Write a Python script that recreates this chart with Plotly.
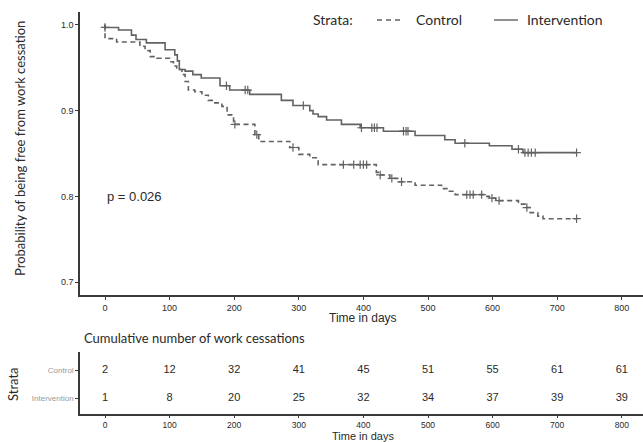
import numpy as np
import plotly.graph_objects as go

# ---------------- data ----------------
int_time = [0, 0, 21, 41, 48, 64, 93, 108, 112, 115, 124, 136, 149, 178, 193, 224, 273, 291,
            317, 322, 330, 343, 366, 395, 431, 480, 526, 542, 595, 630, 647, 730]
int_surv = [1.0, 0.997, 0.994, 0.988, 0.983, 0.979, 0.971, 0.965, 0.958, 0.948, 0.946, 0.942,
            0.938, 0.929, 0.924, 0.919, 0.912, 0.906, 0.900, 0.896, 0.893, 0.889, 0.884, 0.880,
            0.876, 0.871, 0.866, 0.862, 0.859, 0.855, 0.851, 0.851]

ctl_time = [0, 0, 18, 54, 62, 70, 80, 100, 106, 111, 119, 124, 129, 139, 150, 160, 170, 181,
            189, 199, 232, 238, 286, 300, 317, 330, 420, 426, 441, 455, 480, 521, 531, 542,
            586, 595, 605, 640, 653, 658, 670, 678, 730]
ctl_surv = [1.0, 0.984, 0.980, 0.975, 0.970, 0.963, 0.961, 0.957, 0.952, 0.948, 0.942, 0.934,
            0.924, 0.922, 0.918, 0.912, 0.909, 0.905, 0.895, 0.884, 0.872, 0.864, 0.857, 0.849,
            0.845, 0.837, 0.828, 0.825, 0.821, 0.817, 0.813, 0.809, 0.806, 0.802, 0.800, 0.798,
            0.795, 0.791, 0.787, 0.781, 0.777, 0.774, 0.774]

int_cens = [0, 188, 217, 221, 307, 397, 413, 417, 421, 462, 466, 469, 557, 640, 650, 655, 660, 666, 730]
ctl_cens = [201, 235, 291, 369, 385, 395, 400, 405, 426, 444, 459, 560, 565, 570, 583, 599, 610, 653, 730]

risk_times = [0, 100, 200, 300, 400, 500, 600, 700, 800]
ctl_cum = [2, 12, 32, 41, 45, 51, 55, 61, 61]
int_cum = [1, 8, 20, 25, 32, 34, 37, 39, 39]

groups = ["Control", "Intervention"]
p_text = "p = 0.026"

# ---------------- helpers ----------------
def step_at(times, surv, t):
    times = np.asarray(times, float)
    surv = np.asarray(surv, float)
    idx = np.searchsorted(times, np.asarray(t, float), side="right") - 1
    return surv[idx]

LINE_COL = "#626262"
AX_COL = "#3a3a3a"
TXT_COL = "#2a2a2a"
DASH = "5px,3.5px"
XR = [-38.7, 832.8]
W, H = 643, 442

fig = go.Figure()

fig.add_trace(go.Scatter(x=ctl_time, y=ctl_surv, mode="lines",
                         line=dict(shape="hv", dash=DASH, color=LINE_COL, width=1.6),
                         showlegend=False, hoverinfo="skip"))
fig.add_trace(go.Scatter(x=int_time, y=int_surv, mode="lines",
                         line=dict(shape="hv", color=LINE_COL, width=1.6),
                         showlegend=False, hoverinfo="skip"))
fig.add_trace(go.Scatter(x=ctl_cens, y=step_at(ctl_time, ctl_surv, ctl_cens), mode="markers",
                         marker=dict(symbol="cross-thin", size=6, line=dict(width=1.2, color=LINE_COL)),
                         showlegend=False, hoverinfo="skip"))
fig.add_trace(go.Scatter(x=int_cens, y=step_at(int_time, int_surv, int_cens), mode="markers",
                         marker=dict(symbol="cross-thin", size=6, line=dict(width=1.2, color=LINE_COL)),
                         showlegend=False, hoverinfo="skip"))

# risk table
fig.add_trace(go.Scatter(x=risk_times + risk_times, y=[2] * len(risk_times) + [1] * len(risk_times),
                         text=[str(v) for v in ctl_cum + int_cum], mode="text",
                         textfont=dict(family="Liberation Sans", size=11, color=TXT_COL),
                         xaxis="x2", yaxis="y2", showlegend=False, hoverinfo="skip"))

x0 = 80 / W
axis_common = dict(showline=True, linecolor=AX_COL, linewidth=1.5, ticks="outside",
                   tickcolor=AX_COL, showgrid=False, zeroline=False)
tickf = dict(family="Liberation Sans", size=9, color=TXT_COL)

def px(xp):
    return xp / W

def py(yp):
    return (H - yp) / H

ly = py(20)
shapes = [
    dict(type="line", xref="paper", yref="paper", x0=px(377), x1=px(403), y0=ly, y1=ly,
         line=dict(color=LINE_COL, width=1.4, dash="5px,4px")),
    dict(type="line", xref="paper", yref="paper", x0=px(494), x1=px(518), y0=ly, y1=ly,
         line=dict(color=LINE_COL, width=1.4)),
]

fig.update_layout(
    width=W, height=H, margin=dict(l=0, r=0, t=0, b=0),
    paper_bgcolor="white", plot_bgcolor="white", showlegend=False,
    xaxis=dict(domain=[x0, 1], range=XR, tickvals=risk_times, anchor="y", tickfont=tickf,
               ticklen=3, **axis_common),
    yaxis=dict(domain=[py(295), py(12)], range=[0.685, 1.015], anchor="x",
               tickvals=[0.7, 0.8, 0.9, 1.0], ticktext=["0.7", "0.8", "0.9", "1.0"],
               tickfont=tickf, ticklen=3, **axis_common),
    xaxis2=dict(domain=[x0, 1], range=XR, tickvals=risk_times, anchor="y2",
                tickfont=dict(family="Liberation Sans", size=8.5, color=TXT_COL), ticklen=2, **axis_common),
    yaxis2=dict(domain=[py(414), py(352)], range=[0.43, 2.643], anchor="x2",
                tickvals=[2, 1], ticktext=groups, ticklen=3,
                tickfont=dict(family="Liberation Sans", size=8, color="#9a9a9a"), **axis_common),
    shapes=shapes,
    annotations=[
        dict(text="Strata:", x=px(311), y=ly, xref="paper", yref="paper", xanchor="left", yanchor="middle",
             showarrow=False, font=dict(family="Lato", size=14, color=TXT_COL)),
        dict(text=groups[0], x=px(414), y=ly, xref="paper", yref="paper", xanchor="left", yanchor="middle",
             showarrow=False, font=dict(family="Lato", size=14, color=TXT_COL)),
        dict(text=groups[1], x=px(525), y=ly, xref="paper", yref="paper", xanchor="left", yanchor="middle",
             showarrow=False, font=dict(family="Lato", size=14, color=TXT_COL)),
        dict(text=p_text, x=0, y=0.8, xref="x", yref="y", xanchor="left", yanchor="middle", showarrow=False,
             font=dict(family="Liberation Sans", size=13, color=TXT_COL)),
        dict(text="Probability of being free from work cessation", x=px(20), y=py(149),
             xref="paper", yref="paper", textangle=-90, showarrow=False, xanchor="center", yanchor="middle",
             font=dict(family="Lato", size=13, color=TXT_COL)),
        dict(text="Time in days", x=px(363), y=py(318), xref="paper", yref="paper",
             showarrow=False, xanchor="center", yanchor="middle",
             font=dict(family="Liberation Sans", size=12, color=TXT_COL)),
        dict(text="Cumulative number of work cessations", x=px(82), y=py(338), xref="paper", yref="paper",
             showarrow=False, xanchor="left", yanchor="middle",
             font=dict(family="Lato", size=13, color=TXT_COL)),
        dict(text="Strata", x=px(13), y=py(384), xref="paper", yref="paper", textangle=-90,
             showarrow=False, xanchor="center", yanchor="middle",
             font=dict(family="Lato", size=13, color=TXT_COL)),
        dict(text="Time in days", x=px(363), y=py(442), xref="paper", yref="paper",
             showarrow=False, xanchor="center", yanchor="bottom", yshift=-2,
             font=dict(family="Liberation Sans", size=11, color=TXT_COL)),
    ],
)

fig.write_html("out.html", config={"displayModeBar": False},
               post_script="document.body.style.margin='0';document.body.style.overflow='hidden';")
